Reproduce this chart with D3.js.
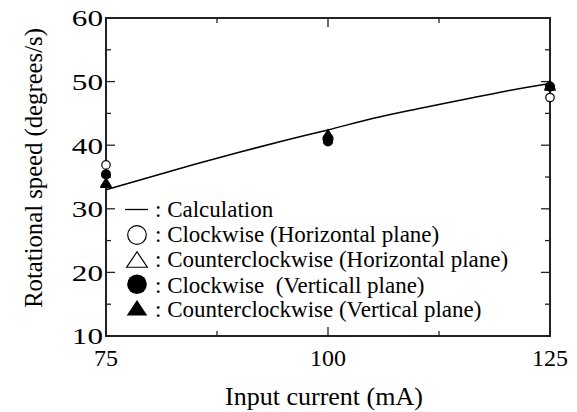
<!DOCTYPE html>
<html><head><meta charset="utf-8">
<script src="https://cdn.jsdelivr.net/npm/d3@7"></script>
<style>body{margin:0;background:#fff}svg{display:block}text{font-family:"Liberation Serif","Times New Roman",serif;fill:#000}</style>
</head><body><svg id="c" width="577" height="412"></svg>
<script>
const calcX = [75, 80, 85, 90, 95, 100, 105, 110, 115, 120, 125];
const calcY = [33.0, 35.0, 37.0, 38.9, 40.7, 42.4, 44.2, 45.7, 47.1, 48.5, 49.7];
const currents = [75, 100, 125];
const cwHoriz = [36.9, 41.2, 47.5];
const ccwHoriz = [34.2, 41.5, 49.3];
const cwVert = [35.4, 40.6, 49.2];
const ccwVert = [34.0, 41.8, 49.5];
const xTicks = [75, 100, 125];
const yTicks = [10, 20, 30, 40, 50, 60];
const legendLabels = [": Calculation", ": Clockwise (Horizontal plane)", ": Counterclockwise (Horizontal plane)", ": Clockwise  (Verticall plane)", ": Counterclockwise (Vertical plane)"];

const svg = d3.select("#c");
const L = 106, R = 550, T = 18, B = 336;
const x = d3.scaleLinear().domain([75, 125]).range([L, R]);
const y = d3.scaleLinear().domain([10, 60]).range([B, T]);

// frame
svg.append("rect").attr("x", L).attr("y", T).attr("width", R - L).attr("height", B - T)
  .attr("fill", "none").attr("stroke", "#222").attr("stroke-width", 2);

const g = svg.append("g").attr("stroke", "#222").attr("stroke-width", 1.3);
yTicks.slice(1, -1).forEach(v => {
  g.append("line").attr("x1", L).attr("x2", L + 9).attr("y1", y(v)).attr("y2", y(v));
  g.append("line").attr("x1", R).attr("x2", R - 9).attr("y1", y(v)).attr("y2", y(v));
});
d3.range(15, 60, 10).forEach(v => {
  g.append("line").attr("x1", L).attr("x2", L + 5).attr("y1", y(v)).attr("y2", y(v));
  g.append("line").attr("x1", R).attr("x2", R - 5).attr("y1", y(v)).attr("y2", y(v));
});
[100].forEach(v => {
  g.append("line").attr("x1", x(v)).attr("x2", x(v)).attr("y1", B).attr("y2", B - 9);
  g.append("line").attr("x1", x(v)).attr("x2", x(v)).attr("y1", T).attr("y2", T + 9);
});
[87.5, 112.5].forEach(v => {
  g.append("line").attr("x1", x(v)).attr("x2", x(v)).attr("y1", B).attr("y2", B - 5);
  g.append("line").attr("x1", x(v)).attr("x2", x(v)).attr("y1", T).attr("y2", T + 5);
});

// tick labels
svg.selectAll(".yl").data(yTicks).enter().append("text")
  .attr("transform", d => `translate(103,${y(d)}) scale(1.3,1)`).attr("dy", "0.35em")
  .attr("text-anchor", "end").attr("font-size", 24).text(d => d);
svg.selectAll(".xl").data(xTicks).enter().append("text")
  .attr("x", d => x(d)).attr("y", 366)
  .attr("text-anchor", "middle").attr("font-size", 24).text(d => d);

// axis titles
svg.append("text").attr("x", 324).attr("y", 405).attr("text-anchor", "middle")
  .attr("font-size", 26).text("Input current (mA)");
svg.append("text").attr("transform", "translate(42,168) rotate(-90)").attr("text-anchor", "middle")
  .attr("font-size", 24.7).text("Rotational speed (degrees/s)");

// calculation line
const line = d3.line().x(d => x(d[0])).y(d => y(d[1])).curve(d3.curveMonotoneX);
svg.append("path").datum(calcX.map((v, i) => [v, calcY[i]]))
  .attr("d", line).attr("fill", "none").attr("stroke", "#000").attr("stroke-width", 1.5);

function triPath(cx, cy, hw, h) {
  return `M${cx},${cy - h / 2}L${cx + hw},${cy + h / 2}L${cx - hw},${cy + h / 2}Z`;
}
function drawSeries(vals, kind, filled, size) {
  vals.forEach((v, i) => {
    const cx = x(currents[i]), cy = y(v);
    if (kind === "circle") {
      svg.append("circle").attr("cx", cx).attr("cy", cy).attr("r", size)
        .attr("fill", filled ? "#000" : "#fff").attr("stroke", "#000").attr("stroke-width", 1.2);
    } else {
      svg.append("path").attr("d", triPath(cx, cy, size, size * 1.6))
        .attr("fill", filled ? "#000" : "#fff").attr("stroke", "#000").attr("stroke-width", 1.2);
    }
  });
}
drawSeries(cwHoriz, "circle", false, 4.2);
drawSeries(ccwHoriz, "tri", false, 5);
drawSeries(cwVert, "circle", true, 4.5);
drawSeries(ccwVert, "tri", true, 5);

// legend
const baselines = [217, 242, 267, 292.5, 316.5];
const tx = 155, sx = 137;
const lg = svg.append("g");
legendLabels.forEach((t, i) => {
  lg.append("text").attr("x", tx).attr("y", baselines[i]).attr("font-size", 23)
    .style("white-space", "pre").text(t);
});
lg.append("line").attr("x1", 125).attr("x2", 148).attr("y1", 209.5).attr("y2", 209.5)
  .attr("stroke", "#000").attr("stroke-width", 1.3);
lg.append("circle").attr("cx", sx).attr("cy", 235).attr("r", 9.3).attr("fill", "#fff").attr("stroke", "#000").attr("stroke-width", 1.2);
lg.append("path").attr("d", triPath(sx, 259.5, 10.3, 15.5)).attr("fill", "#fff").attr("stroke", "#000").attr("stroke-width", 1.2);
lg.append("circle").attr("cx", sx).attr("cy", 284.2).attr("r", 9.8).attr("fill", "#000");
lg.append("path").attr("d", triPath(sx, 307.8, 10.3, 15.5)).attr("fill", "#000");
</script></body></html>
